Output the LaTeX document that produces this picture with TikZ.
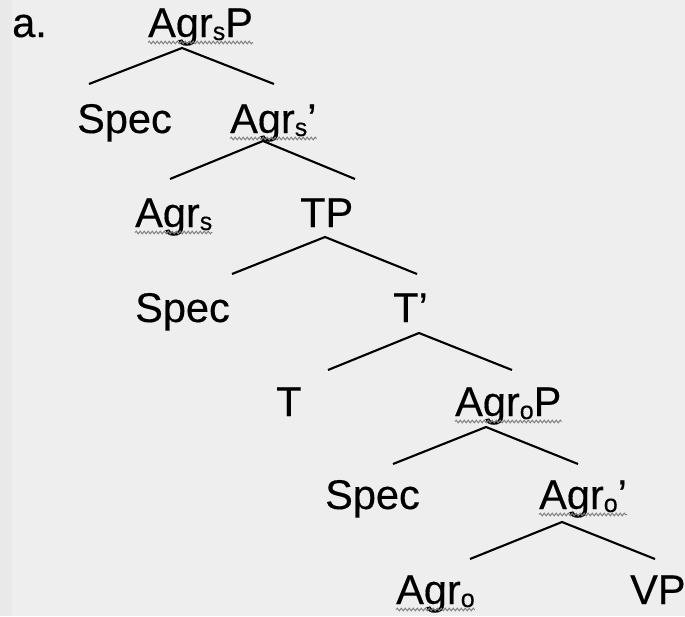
\documentclass[tikz,border=0pt]{standalone}
\usepackage{fontspec}
\setmainfont{Liberation Sans}
\newfontfamily\treefont{Liberation Sans}[FakeBold=0.35]
\usetikzlibrary{decorations.pathmorphing}
\definecolor{paper}{HTML}{EEEEEE}
\definecolor{margin}{HTML}{E9E9E9}
% lowered small subscript used in the Agr labels
\newcommand{\lsub}[1]{\raisebox{-3pt}{\fontsize{25}{25}\selectfont #1}}
\tikzset{
  label/.style={inner sep=0pt, anchor=base west, font=\treefont\fontsize{41.5}{48}\selectfont},
  branch/.style={line width=2.1pt, black},
  squiggle/.style={black!50, line width=1pt, decorate,
    decoration={snake, amplitude=1.3pt, segment length=4pt}}
}
\begin{document}
\begin{tikzpicture}[x=1pt, y=-1pt]
  % page
  \fill[paper] (0,0) rectangle (685,616);
  \fill[margin] (0,0) rectangle (12,616);
  \useasboundingbox (0,0) rectangle (685,616);

  % labels
  \node[label] (a)    at (12,37)  {a.};
  \node[label] (n0)   at (148,37) {Agr\lsub{s}P};
  \node[label] (s1)   at (77,133) {Spec};
  \node[label] (n1)   at (230,133) {Agr\lsub{s}’};
  \node[label] (h1)   at (135,227) {Agr\lsub{s}};
  \node[label] (n2)   at (300,227) {TP};
  \node[label] (s2)   at (135,322) {Spec};
  \node[label] (n3)   at (393,322) {T’};
  \node[label] (h3)   at (276,416) {T};
  \node[label] (n4)   at (455,416) {Agr\lsub{o}P};
  \node[label] (s4)   at (325,509) {Spec};
  \node[label] (n5)   at (539,509) {Agr\lsub{o}’};
  \node[label] (h5)   at (396,604) {Agr\lsub{o}};
  \node[label] (vp)   at (630,604) {VP};

  % spelling squiggles under the Agr labels
  \foreach \n in {n0,n1,h1,n4,n5,h5}
    \draw[squiggle] ([yshift=-5.5pt]\n.base west) -- ([yshift=-5.5pt]\n.base east);

  % branch points
  \coordinate (t0) at (182,48);  \coordinate (l0) at (89,84);   \coordinate (r0) at (274,84);
  \coordinate (t1) at (263,141); \coordinate (l1) at (170,179); \coordinate (r1) at (355,179);
  \coordinate (t2) at (325,237); \coordinate (l2) at (232,274); \coordinate (r2) at (417,274);
  \coordinate (t3) at (419,333); \coordinate (l3) at (328,370); \coordinate (r3) at (512,370);
  \coordinate (t4) at (486,427); \coordinate (l4) at (393,464); \coordinate (r4) at (578,464);
  \coordinate (t5) at (562,522); \coordinate (l5) at (470,559); \coordinate (r5) at (655,559);

  \foreach \i in {0,...,5}
    \draw[branch] (l\i) -- (t\i) -- (r\i);
\end{tikzpicture}
\end{document}
